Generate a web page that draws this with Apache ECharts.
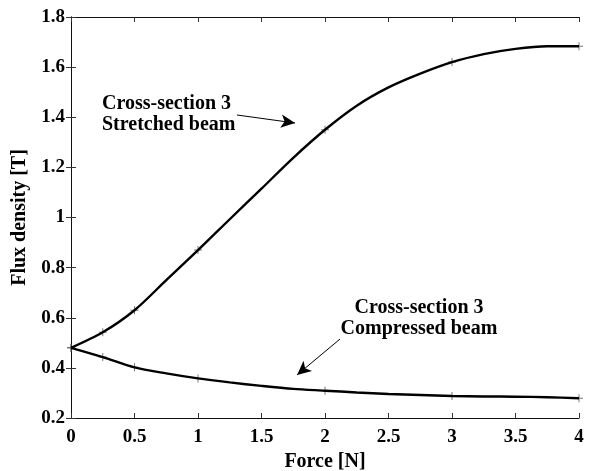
<!DOCTYPE html>
<html>
<head>
<meta charset="utf-8">
<script src="https://cdn.jsdelivr.net/npm/echarts@6/dist/echarts.min.js"></script>
<style>html,body{margin:0;padding:0;background:#fff}#c{width:602px;height:471px}</style>
</head>
<body>
<div id="c"></div>
<script>
// Data
var forceN = [0, 0.25, 0.5, 0.75, 1, 1.25, 1.5, 1.75, 2, 2.25, 2.5, 2.75, 3, 3.25, 3.5, 3.75, 4];
var stretched = [0.48, 0.542, 0.63, 0.75, 0.87, 0.993, 1.115, 1.238, 1.35, 1.446, 1.519, 1.574, 1.62, 1.652, 1.673, 1.683, 1.683];
var compressed = [0.48, 0.443, 0.402, 0.378, 0.358, 0.342, 0.328, 0.316, 0.309, 0.302, 0.296, 0.292, 0.288, 0.286, 0.285, 0.283, 0.279];
var markerForces = [0, 0.25, 0.5, 1, 2, 3, 4];
var xTicks = { min: 0, max: 4, interval: 0.5 };
var yTicks = { min: 0.2, max: 1.8, interval: 0.2 };
var annoStretched = { text: ['Cross-section 3', 'Stretched beam'], at: [0.244, 1.41], from: [1.307, 1.409], to: [1.764, 1.377] };
var annoCompressed = { text: ['Cross-section 3', 'Compressed beam'], at: [2.74, 0.599], from: [2.118, 0.515], to: [1.78, 0.372] };

function pairs(xs, ys) { return xs.map(function (x, i) { return [x, ys[i]]; }); }
function pick(xs, ys, sel) {
  return sel.map(function (s) { var i = xs.indexOf(s); return [xs[i], ys[i]]; });
}

var FONT = 'Liberation Serif';
var tickTxt = { fontFamily: FONT, fontWeight: 'bold', fontSize: 19, color: '#000' };
var nameTxt = { fontFamily: FONT, fontWeight: 'bold', fontSize: 20, color: '#000' };
var plus = 'path://M3.5,0h1v8h-1z M0,3.5h8v1h-8z';

function axisCommon(extra) {
  return Object.assign({
    type: 'value',
    axisLine: { show: true, lineStyle: { color: '#111', width: 1 } },
    axisTick: { show: true, inside: true, length: 5, lineStyle: { color: '#333' } },
    splitLine: { show: false }
  }, extra);
}

function anno(a, align) {
  return {
    coord: a.at,
    symbol: 'rect',
    symbolSize: 0,
    label: {
      show: true,
      position: 'inside',
      align: align,
      verticalAlign: 'middle',
      formatter: a.text.join('\n'),
      fontFamily: FONT, fontWeight: 'bold', fontSize: 20, lineHeight: 21, color: '#000'
    }
  };
}

var chart = echarts.init(document.getElementById('c'), null, { renderer: 'canvas' });
chart.setOption({
  animation: false,
  backgroundColor: '#fff',
  grid: { left: 71, right: 23, top: 17, bottom: 53, containLabel: false, outerBoundsMode: 'none' },
  xAxis: [
    axisCommon({
      min: xTicks.min, max: xTicks.max, interval: xTicks.interval,
      name: 'Force [N]', nameLocation: 'middle', nameGap: 30,
      nameTextStyle: nameTxt,
      axisLabel: Object.assign({ margin: 10 }, tickTxt)
    }),
    axisCommon({
      position: 'top', min: xTicks.min, max: xTicks.max, interval: xTicks.interval,
      axisLabel: { show: false }
    })
  ],
  yAxis: [
    axisCommon({
      min: yTicks.min, max: yTicks.max, interval: yTicks.interval,
      name: 'Flux density [T]', nameLocation: 'middle', nameGap: 41,
      nameTextStyle: nameTxt,
      axisLabel: Object.assign({ margin: 6 }, tickTxt)
    }),
    axisCommon({
      position: 'right', min: yTicks.min, max: yTicks.max, interval: yTicks.interval,
      axisLabel: { show: false }
    })
  ],
  series: [
    {
      type: 'line', name: 'Stretched', data: pairs(forceN, stretched), smooth: 0.3,
      showSymbol: false, lineStyle: { color: '#000', width: 2.4 }, silent: true,
      markPoint: { silent: true, data: [anno(annoStretched, 'left')] },
      markLine: {
        silent: true, symbol: ['none', 'arrow'], symbolSize: [10, 14],
        lineStyle: { color: '#000', width: 1, type: 'solid' }, label: { show: false },
        data: [[{ coord: annoStretched.from }, { coord: annoStretched.to }]]
      }
    },
    {
      type: 'line', name: 'Compressed', data: pairs(forceN, compressed), smooth: 0.3,
      showSymbol: false, lineStyle: { color: '#000', width: 2.4 }, silent: true,
      markPoint: { silent: true, data: [anno(annoCompressed, 'center')] },
      markLine: {
        silent: true, symbol: ['none', 'arrow'], symbolSize: [10, 14],
        lineStyle: { color: '#000', width: 1, type: 'solid' }, label: { show: false },
        data: [[{ coord: annoCompressed.from }, { coord: annoCompressed.to }]]
      }
    },
    {
      type: 'scatter', data: pick(forceN, stretched, markerForces), symbol: plus, symbolSize: 8,
      itemStyle: { color: '#555' }, silent: true
    },
    {
      type: 'scatter', data: pick(forceN, compressed, markerForces), symbol: plus, symbolSize: 8,
      itemStyle: { color: '#555' }, silent: true
    }
  ]
});
</script>
</body>
</html>
